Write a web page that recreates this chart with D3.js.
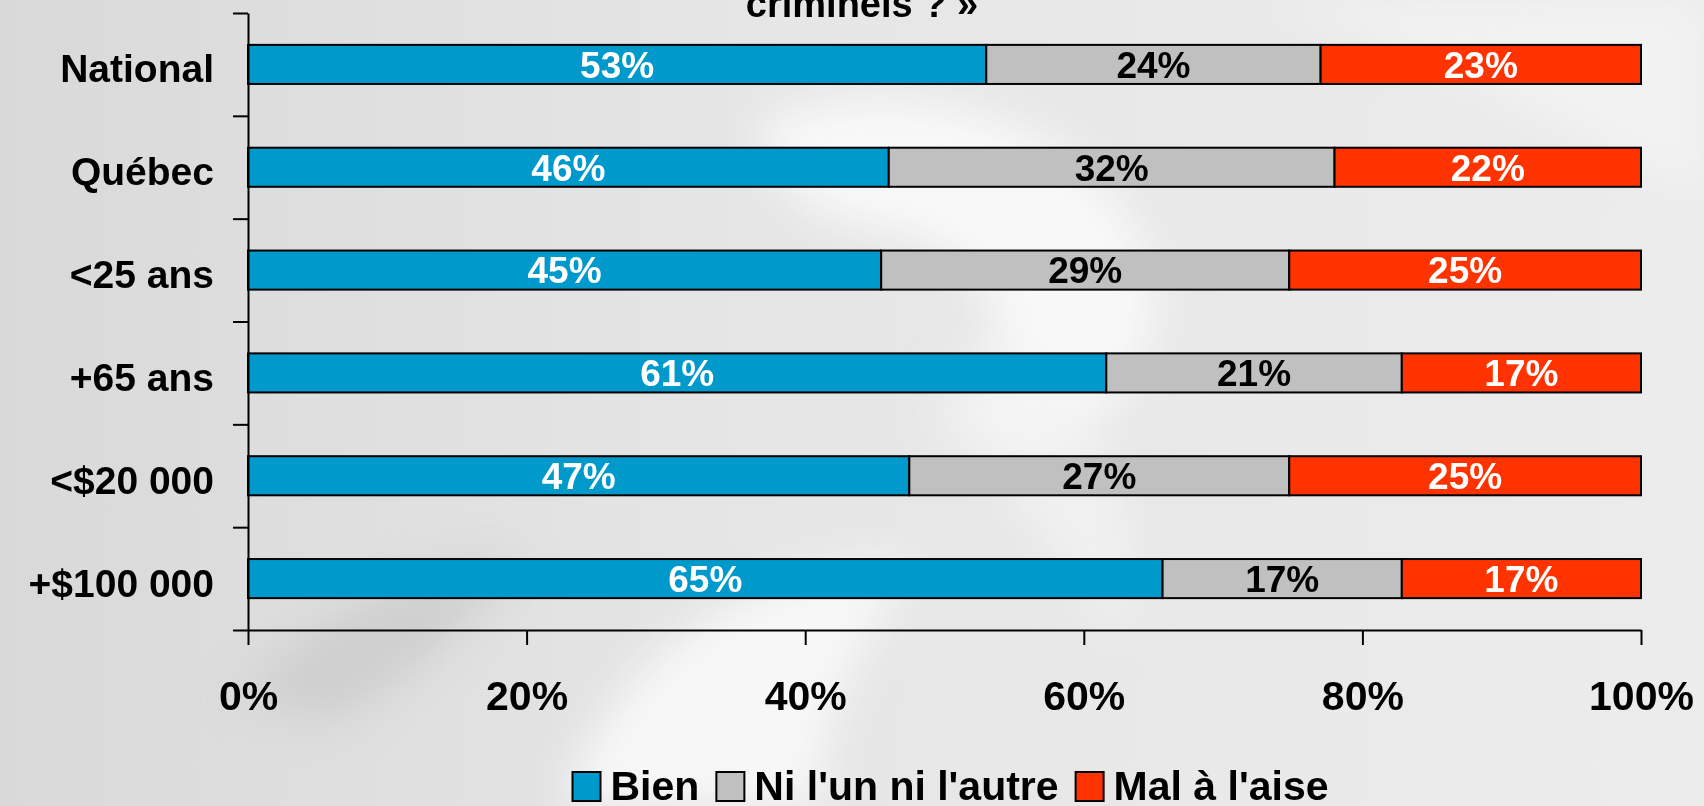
<!DOCTYPE html>
<html>
<head>
<meta charset="utf-8">
<script src="https://cdn.jsdelivr.net/npm/d3@7"></script>
<style>
  html, body { margin: 0; padding: 0; background: #e4e4e4; }
  svg { display: block; }
  text { font-family: "Liberation Sans", Arial, sans-serif; font-weight: bold; }
</style>
</head>
<body>
<div id="chart"></div>
<script>
// data
const categories = ["National", "Québec", "<25 ans", "+65 ans", "<$20 000", "+$100 000"];
const seriesNames = ["Bien", "Ni l'un ni l'autre", "Mal à l'aise"];
const bien = [53, 46, 45, 61, 47, 65];
const niLun = [24, 32, 29, 21, 27, 17];
const malAise = [23, 22, 25, 17, 25, 17];
const xTicks = [0, 20, 40, 60, 80, 100];
const titleTail = "criminels ? »";

const colors = ["#0099CC", "#C0C0C0", "#FF3300"];
const labelColors = ["#ffffff", "#000000", "#ffffff"];

const width = 1704, height = 806;
const margin = {top: 13, right: 63, bottom: 176, left: 248};

const svg = d3.select("#chart").append("svg")
    .attr("width", width)
    .attr("height", height);

// background: grey with soft white swirl
const defs = svg.append("defs");
const bg = defs.append("linearGradient").attr("id", "bg")
    .attr("x1", "0%").attr("y1", "0%").attr("x2", "100%").attr("y2", "0%");
bg.append("stop").attr("offset", "0%").attr("stop-color", "#d9d9d9");
bg.append("stop").attr("offset", "45%").attr("stop-color", "#e6e6e6");
bg.append("stop").attr("offset", "100%").attr("stop-color", "#ececec");
defs.append("filter").attr("id", "blur")
    .attr("x", "-50%").attr("y", "-50%").attr("width", "200%").attr("height", "200%")
    .append("feGaussianBlur").attr("stdDeviation", 22);

svg.append("rect").attr("width", width).attr("height", height).attr("fill", "url(#bg)");

const swirl = svg.append("g").attr("filter", "url(#blur)");
swirl.append("path")
    .attr("d", "M760,120 C900,60 1100,120 1150,260 C1180,380 1080,470 960,430 C1040,360 1000,250 880,230 C800,220 760,170 760,120 Z")
    .attr("fill", "#fafafa").attr("opacity", 0.9);
swirl.append("path")
    .attr("d", "M560,806 C620,640 760,560 920,560 C860,640 820,720 820,806 Z")
    .attr("fill", "#f8f8f8").attr("opacity", 0.9);
swirl.append("path")
    .attr("d", "M240,700 C300,620 420,560 520,560 C470,620 420,680 330,720 Z")
    .attr("fill", "#c8c8c8").attr("opacity", 0.7);
swirl.append("path")
    .attr("d", "M1250,0 C1400,40 1560,120 1704,200 L1704,0 Z")
    .attr("fill", "#f4f4f4").attr("opacity", 0.8);
swirl.append("path")
    .attr("d", "M980,330 C1100,380 1160,520 1120,640 C1060,560 1000,470 930,420 Z")
    .attr("fill", "#f2f2f2").attr("opacity", 0.8);

// title (only its last line shows)
svg.append("text")
    .attr("x", 862)
    .attr("y", 17)
    .attr("text-anchor", "middle")
    .attr("font-size", 38)
    .attr("fill", "#000")
    .text(titleTail);

// scales
const x = d3.scaleLinear()
    .domain([0, 1])
    .range([margin.left, width - margin.right]);

const y = d3.scaleBand()
    .domain(categories)
    .range([margin.top, height - margin.bottom])
    .paddingInner(0.62)
    .paddingOuter(0.31);

const yIdx = d3.scaleLinear()
    .domain([0, categories.length])
    .range([margin.top, height - margin.bottom]);

// stacked + normalised to 100%
const rows = categories.map((c, i) => ({
    cat: c,
    [seriesNames[0]]: bien[i],
    [seriesNames[1]]: niLun[i],
    [seriesNames[2]]: malAise[i]
}));
const stacked = d3.stack()
    .keys(seriesNames)
    .offset(d3.stackOffsetExpand)(rows);

const layers = svg.append("g").attr("class", "bars")
    .selectAll("g")
    .data(stacked)
    .join("g")
    .attr("fill", (d, i) => colors[i]);

layers.selectAll("rect")
    .data(d => d)
    .join("rect")
    .attr("x", d => x(d[0]))
    .attr("y", d => y(d.data.cat))
    .attr("width", d => x(d[1]) - x(d[0]))
    .attr("height", y.bandwidth())
    .attr("stroke", "#000")
    .attr("stroke-width", 2);

// value labels
stacked.forEach((layer, li) => {
    svg.append("g")
        .selectAll("text")
        .data(layer)
        .join("text")
        .attr("x", d => (x(d[0]) + x(d[1])) / 2)
        .attr("y", d => y(d.data.cat) + y.bandwidth() / 2)
        .attr("dy", "0.36em")
        .attr("text-anchor", "middle")
        .attr("font-size", 37)
        .attr("fill", labelColors[li])
        .text(d => d.data[layer.key] + "%");
});

// y axis (ticks between categories)
const yAxis = svg.append("g")
    .attr("transform", `translate(${margin.left},0)`)
    .call(d3.axisLeft(yIdx).tickValues(d3.range(categories.length + 1)).tickFormat("").tickSize(15).tickSizeOuter(0));
yAxis.selectAll("path, line").attr("stroke", "#000").attr("stroke-width", 2);

// category labels
svg.append("g")
    .selectAll("text")
    .data(categories)
    .join("text")
    .attr("x", 214)
    .attr("y", d => y(d) + y.bandwidth() / 2 + 18)
    .attr("text-anchor", "end")
    .attr("font-size", 39)
    .attr("fill", "#000")
    .text(d => d);

// x axis
const xAxis = svg.append("g")
    .attr("transform", `translate(0,${height - margin.bottom})`)
    .call(d3.axisBottom(x)
        .tickValues(xTicks.map(t => t / 100))
        .tickFormat(d => Math.round(d * 100) + "%")
        .tickSize(15)
        .tickSizeOuter(0)
        .tickPadding(36));
xAxis.selectAll("path, line").attr("stroke", "#000").attr("stroke-width", 2);
xAxis.selectAll("text")
    .attr("font-size", 41)
    .attr("font-family", "'Liberation Sans', Arial, sans-serif")
    .attr("font-weight", "bold")
    .attr("fill", "#000");

// legend, centred under the plot
const legend = svg.append("g").attr("class", "legend");
const items = legend.selectAll("g")
    .data(seriesNames)
    .join("g");
items.append("rect")
    .attr("y", 772)
    .attr("width", 28)
    .attr("height", 29)
    .attr("fill", (d, i) => colors[i])
    .attr("stroke", "#000")
    .attr("stroke-width", 2);
items.append("text")
    .attr("x", 38)
    .attr("y", 800)
    .attr("font-size", 41)
    .attr("fill", "#000")
    .text(d => d);

let pos = 0;
const offsets = [];
items.each(function() {
    const w = 38 + d3.select(this).select("text").node().getComputedTextLength();
    offsets.push(pos);
    pos += w + 17;
});
const total = pos - 17;
const start = (x(0) + x(1)) / 2 + 6 - total / 2;
items.attr("transform", (d, i) => `translate(${start + offsets[i]},0)`);
</script>
</body>
</html>
